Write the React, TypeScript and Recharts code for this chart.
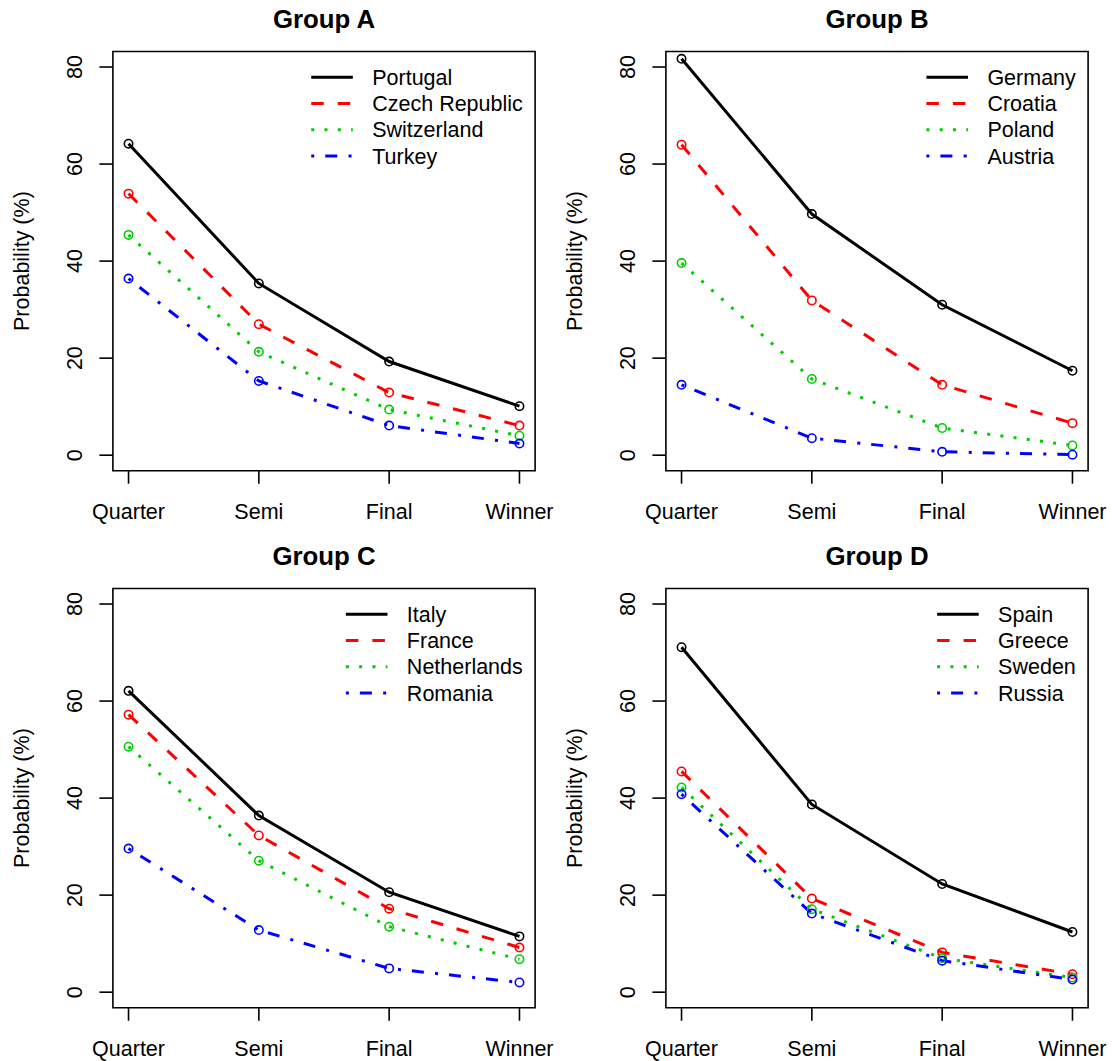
import React from 'react';
import { LineChart, Line, XAxis, YAxis, ReferenceArea } from 'recharts';

const stages = ['Quarter', 'Semi', 'Final', 'Winner'];
const yTicks = [0, 20, 40, 60, 80];

const teamsA = ['Portugal', 'Czech Republic', 'Switzerland', 'Turkey'];
const portugal = [64.2, 35.4, 19.3, 10.1];
const czechRepublic = [53.9, 27.0, 12.9, 6.1];
const switzerland = [45.4, 21.3, 9.4, 4.0];
const turkey = [36.4, 15.3, 6.1, 2.4];

const teamsB = ['Germany', 'Croatia', 'Poland', 'Austria'];
const germany = [81.7, 49.7, 31.0, 17.4];
const croatia = [64.0, 31.9, 14.5, 6.6];
const poland = [39.6, 15.7, 5.6, 2.0];
const austria = [14.5, 3.5, 0.7, 0.1];

const teamsC = ['Italy', 'France', 'Netherlands', 'Romania'];
const italy = [62.1, 36.4, 20.6, 11.5];
const france = [57.2, 32.3, 17.2, 9.2];
const netherlands = [50.6, 27.1, 13.5, 6.8];
const romania = [29.6, 12.8, 4.9, 2.0];

const teamsD = ['Spain', 'Greece', 'Sweden', 'Russia'];
const spain = [71.1, 38.7, 22.3, 12.4];
const greece = [45.5, 19.3, 8.2, 3.7];
const sweden = [42.2, 17.1, 7.0, 3.0];
const russia = [40.8, 16.2, 6.5, 2.6];

const colors = ['#000000', '#FF0000', '#00CD00', '#0000FF'];
const dashes = [undefined, '12.5 14', '3 10.3', '3 11 12 11.3'];

const FONT = "'Liberation Sans', Arial, Helvetica, sans-serif";
const FS = 21.5;

// panel geometry (px, inside each panel)
const W = 556;
const H = 524;
const PLOT_L = 112.9;
const PLOT_R = 535.1;
const PLOT_T = 51.5;
const PLOT_B = 470.7;

const measure = (txt: string) => {
  const ctx = document.createElement('canvas').getContext('2d');
  if (!ctx) return txt.length * FS * 0.55;
  ctx.font = `${FS}px 'Liberation Sans'`;
  return ctx.measureText(txt).width;
};

const XTick = ({ x, payload }: any) => (
  <text x={x} y={518.5} textAnchor="middle" fontFamily={FONT} fontSize={FS} fill="#000">
    {stages[payload.value - 1]}
  </text>
);

const YTick = ({ y, payload }: any) => {
  const bx = PLOT_L - 30.6;
  return (
    <text
      x={bx}
      y={y}
      transform={`rotate(-90 ${bx} ${y})`}
      textAnchor="middle"
      fontFamily={FONT}
      fontSize={FS}
      fill="#000"
    >
      {payload.value}
    </text>
  );
};

function Panel({ title, teams, values, left, top }: any) {
  const data = stages.map((s, i) => {
    const row: any = { x: i + 1, stage: s };
    values.forEach((v: number[], k: number) => {
      row['t' + k] = v[i];
    });
    return row;
  });

  const maxW = Math.max(...teams.map((t: string) => measure(t)));
  const textLeft = PLOT_R - 12.3 - maxW;
  const rowY = (i: number) => PLOT_T + 25.8 + i * 26.2;

  return (
    <div style={{ position: 'absolute', left, top, width: W, height: H }}>
      <LineChart
        width={W}
        height={H}
        data={data}
        margin={{ top: PLOT_T, right: W - PLOT_R, bottom: 0, left: 0 }}
      >
        <XAxis
          dataKey="x"
          type="number"
          domain={[0.88, 4.12]}
          ticks={[1, 2, 3, 4]}
          allowDataOverflow
          axisLine={false}
          tickLine={{ stroke: '#000', strokeWidth: 1.6 }}
          tickSize={13}
          height={H - PLOT_B}
          tick={<XTick />}
          interval={0}
        />
        <YAxis
          type="number"
          domain={[-3.2, 83.2]}
          ticks={yTicks}
          allowDataOverflow
          axisLine={false}
          tickLine={{ stroke: '#000', strokeWidth: 1.6 }}
          tickSize={13.5}
          width={PLOT_L}
          tick={<YTick />}
          interval={0}
        />
        <ReferenceArea
          x1={0.88}
          x2={4.12}
          y1={-3.2}
          y2={83.2}
          fill="none"
          fillOpacity={0}
          stroke="#000"
          strokeWidth={1.6}
          ifOverflow="visible"
        />
        {teams.map((t: string, k: number) => (
          <Line
            key={t}
            type="linear"
            dataKey={'t' + k}
            name={t}
            stroke={colors[k]}
            strokeWidth={3}
            strokeDasharray={dashes[k]}
            strokeLinecap="butt"
            dot={{ r: 4.2, stroke: colors[k], strokeWidth: 1.6, fill: 'none', strokeDasharray: '' }}
            isAnimationActive={false}
          />
        ))}
      </LineChart>
      <svg
        width={W}
        height={H}
        style={{ position: 'absolute', left: 0, top: 0, pointerEvents: 'none' }}
      >
        <text
          x={(PLOT_L + PLOT_R) / 2}
          y={28.3}
          textAnchor="middle"
          fontFamily={FONT}
          fontSize={25.8}
          fontWeight="bold"
          fill="#000"
        >
          {title}
        </text>
        <text
          x={29}
          y={(PLOT_T + PLOT_B) / 2}
          transform={`rotate(-90 29 ${(PLOT_T + PLOT_B) / 2})`}
          textAnchor="middle"
          fontFamily={FONT}
          fontSize={FS}
          fill="#000"
        >
          Probability (%)
        </text>
        {teams.map((t: string, k: number) => (
          <g key={t}>
            <line
              x1={textLeft - 61}
              x2={textLeft - 19.4}
              y1={rowY(k)}
              y2={rowY(k)}
              stroke={colors[k]}
              strokeWidth={3}
              strokeDasharray={dashes[k]}
            />
            <text x={textLeft} y={rowY(k) + 7.7} fontFamily={FONT} fontSize={FS} fill="#000">
              {t}
            </text>
          </g>
        ))}
      </svg>
    </div>
  );
}

export default function App() {
  return (
    <div
      style={{
        position: 'absolute',
        left: 0,
        top: 0,
        width: 1112,
        height: 1061,
        background: '#fff',
        overflow: 'hidden',
      }}
    >
      <Panel
        title="Group A"
        teams={teamsA}
        values={[portugal, czechRepublic, switzerland, turkey]}
        left={0}
        top={0}
      />
      <Panel
        title="Group B"
        teams={teamsB}
        values={[germany, croatia, poland, austria]}
        left={553}
        top={0}
      />
      <Panel
        title="Group C"
        teams={teamsC}
        values={[italy, france, netherlands, romania]}
        left={0}
        top={537}
      />
      <Panel
        title="Group D"
        teams={teamsD}
        values={[spain, greece, sweden, russia]}
        left={553}
        top={537}
      />
    </div>
  );
}
